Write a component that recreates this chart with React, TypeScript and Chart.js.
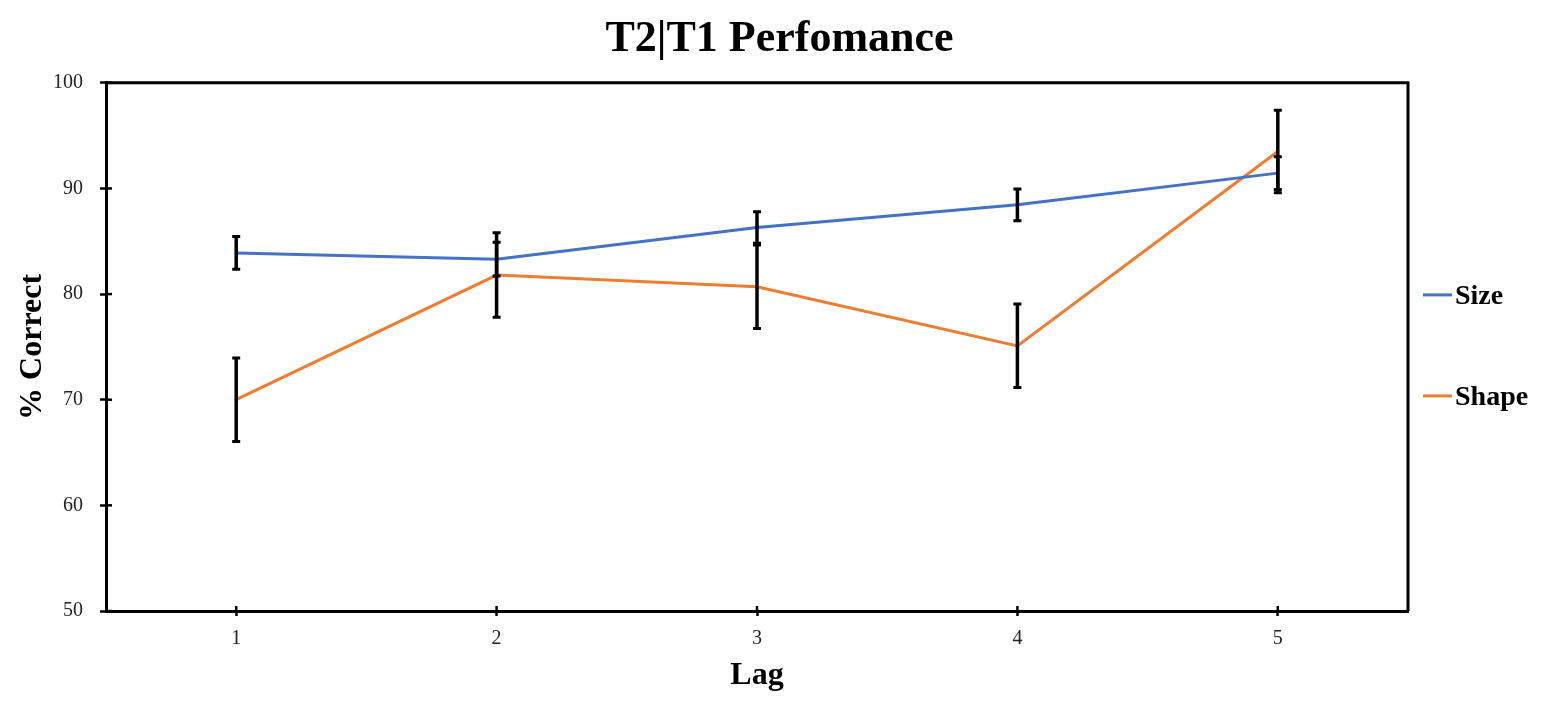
import { useEffect, useRef } from 'react';
import { Chart, registerables, Plugin } from 'chart.js';

Chart.register(...registerables);

const lags = ['1', '2', '3', '4', '5'];
const sizeValues = [83.9, 83.3, 86.3, 88.45, 91.45];
const sizeErrors = [1.55, 1.6, 1.5, 1.5, 1.55];
const shapeValues = [70.0, 81.8, 80.7, 75.1, 93.5];
const shapeErrors = [3.95, 4.0, 3.95, 3.95, 3.9];
const yTicks = [50, 60, 70, 80, 90, 100];

const SERIF = '"Liberation Serif", "Times New Roman", serif';
const errorsByDataset = [sizeErrors, shapeErrors];

// Error bars drawn on top of the lines
const errorBarPlugin: Plugin<'line'> = {
  id: 'errorBars',
  afterDatasetsDraw(chart) {
    const { ctx } = chart;
    const y = chart.scales.y;
    ctx.save();
    ctx.strokeStyle = '#000';
    ctx.lineCap = 'butt';
    chart.data.datasets.forEach((ds, di) => {
      const meta = chart.getDatasetMeta(di);
      const errs = errorsByDataset[di];
      meta.data.forEach((pt, i) => {
        const v = ds.data[i] as number;
        const top = y.getPixelForValue(v + errs[i]);
        const bottom = y.getPixelForValue(v - errs[i]);
        ctx.lineWidth = 3.5;
        ctx.beginPath();
        ctx.moveTo(pt.x, top);
        ctx.lineTo(pt.x, bottom);
        ctx.stroke();
        ctx.lineWidth = 3;
        ctx.beginPath();
        ctx.moveTo(pt.x - 4, top);
        ctx.lineTo(pt.x + 4, top);
        ctx.moveTo(pt.x - 4, bottom);
        ctx.lineTo(pt.x + 4, bottom);
        ctx.stroke();
      });
    });
    ctx.restore();
  },
};

// Box around the plot, inner halves of the tick marks, and the legend
const framePlugin: Plugin<'line'> = {
  id: 'frame',
  afterDraw(chart) {
    const { ctx, chartArea } = chart;
    const { left, right, top, bottom } = chartArea;
    ctx.save();
    ctx.strokeStyle = '#000';
    ctx.lineWidth = 3;
    ctx.beginPath();
    ctx.moveTo(left, top);
    ctx.lineTo(right, top);
    ctx.lineTo(right, bottom);
    ctx.stroke();

    ctx.lineWidth = 2.5;
    const xs = chart.scales.x;
    xs.ticks.forEach((_, i) => {
      const px = xs.getPixelForTick(i);
      ctx.beginPath();
      ctx.moveTo(px, bottom);
      ctx.lineTo(px, bottom - 5);
      ctx.stroke();
    });
    const ys = chart.scales.y;
    ys.ticks.forEach((_, i) => {
      const py = ys.getPixelForTick(i);
      ctx.beginPath();
      ctx.moveTo(left, py);
      ctx.lineTo(left + 6, py);
      ctx.stroke();
    });

    const mid = (top + bottom) / 2;
    ctx.font = `bold 28px ${SERIF}`;
    ctx.textBaseline = 'middle';
    ctx.textAlign = 'left';
    chart.data.datasets.forEach((ds, i) => {
      const ly = mid - 52 + i * 101;
      ctx.strokeStyle = ds.borderColor as string;
      ctx.lineWidth = 3;
      ctx.beginPath();
      ctx.moveTo(right + 15, ly);
      ctx.lineTo(right + 44, ly);
      ctx.stroke();
      ctx.fillStyle = '#000';
      ctx.fillText(ds.label as string, right + 47, ly + 2);
    });
    ctx.restore();
  },
};

export default function App() {
  const chartRef = useRef<HTMLCanvasElement>(null);
  const chartInstanceRef = useRef<Chart<'line'> | null>(null);

  useEffect(() => {
    document.body.style.margin = '0';
    if (!chartRef.current) return;
    if (chartInstanceRef.current) {
      chartInstanceRef.current.destroy();
    }
    const ctx = chartRef.current.getContext('2d');
    if (!ctx) return;

    chartInstanceRef.current = new Chart(ctx, {
      type: 'line',
      data: {
        labels: lags,
        datasets: [
          {
            label: 'Size',
            data: sizeValues,
            borderColor: '#4472C4',
            backgroundColor: '#4472C4',
            borderWidth: 3,
            pointRadius: 0,
            tension: 0,
          },
          {
            label: 'Shape',
            data: shapeValues,
            borderColor: '#ED7D31',
            backgroundColor: '#ED7D31',
            borderWidth: 3,
            pointRadius: 0,
            tension: 0,
          },
        ],
      },
      options: {
        responsive: false,
        animation: false,
        layout: {
          padding: 0,
        },
        plugins: {
          legend: { display: false },
          tooltip: { enabled: false },
          title: {
            display: true,
            text: 'T2|T1 Perfomance',
            color: '#000',
            font: { family: SERIF, size: 44, weight: 'bold' },
            padding: { top: 13, bottom: 17 },
          },
        },
        scales: {
          x: {
            type: 'category',
            offset: true,
            grid: {
              offset: false,
              drawOnChartArea: false,
              drawTicks: true,
              tickLength: 5,
              tickWidth: 2.5,
              tickColor: '#000',
            },
            border: { display: true, color: '#000', width: 3 },
            ticks: {
              color: '#222',
              padding: 11,
              font: { family: SERIF, size: 20 },
            },
            title: {
              display: true,
              text: 'Lag',
              color: '#000',
              font: { family: SERIF, size: 32, weight: 'bold' },
              padding: { top: 0, bottom: 22 },
            },
            afterFit(scale) {
              scale.height = 106;
            },
          },
          y: {
            min: 50,
            max: 100,
            afterBuildTicks(scale) {
              scale.ticks = yTicks.map(v => ({ value: v }));
            },
            grid: {
              drawOnChartArea: false,
              drawTicks: true,
              tickLength: 6,
              tickWidth: 2.5,
              tickColor: '#000',
            },
            border: { display: true, color: '#000', width: 3 },
            ticks: {
              color: '#222',
              padding: 17,
              font: { family: SERIF, size: 20 },
            },
            title: {
              display: true,
              text: '% Correct',
              color: '#000',
              font: { family: SERIF, size: 32, weight: 'bold' },
              padding: { top: 14, bottom: 0 },
            },
            afterFit(scale) {
              scale.width = 106;
            },
          },
          // empty right-hand axis that only reserves room for the legend
          legendSpace: {
            type: 'linear',
            position: 'right',
            display: true,
            grid: { display: false, drawTicks: false },
            border: { display: false },
            ticks: { display: false },
            afterFit(scale) {
              scale.width = 151;
            },
          },
        },
      },
      plugins: [errorBarPlugin, framePlugin],
    });

    return () => {
      if (chartInstanceRef.current) {
        chartInstanceRef.current.destroy();
        chartInstanceRef.current = null;
      }
    };
  }, []);

  return (
    <div style={{ width: 1559, height: 717, background: '#fff' }}>
      <canvas ref={chartRef} width={1559} height={717} />
    </div>
  );
}
